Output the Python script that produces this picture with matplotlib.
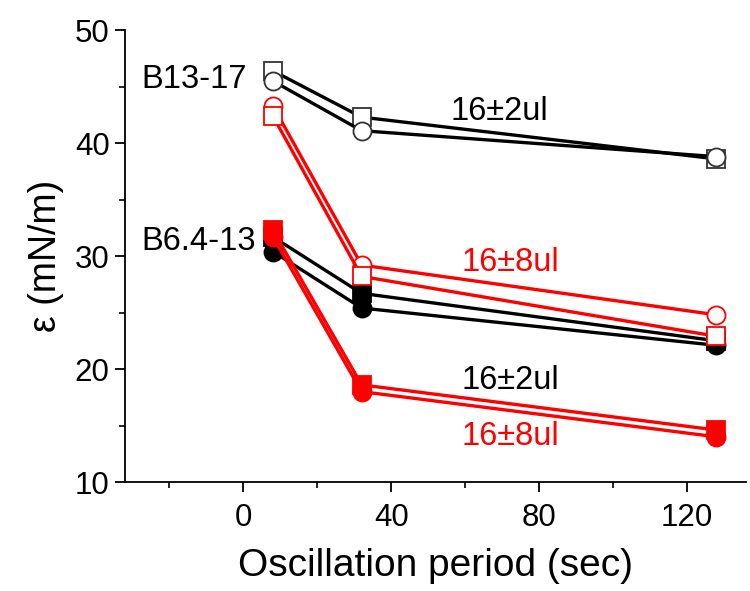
import matplotlib
matplotlib.use("Agg")
import matplotlib.pyplot as plt

plt.rcParams['font.family'] = ['Liberation Sans', 'DejaVu Sans']

periods = [8, 32, 128]

# B13-17, 16±2ul (black, open)
b13_sq = [46.4, 42.3, 38.6]
b13_ci = [45.5, 41.1, 38.8]
# B13-17, 16±8ul (red, open)
b13r_ci = [43.3, 29.2, 24.8]
b13r_sq = [42.4, 28.2, 22.9]
# B6.4-13, 16±2ul (black, filled)
b6_sq = [31.7, 26.7, 22.5]
b6_ci = [30.4, 25.4, 22.1]
# B6.4-13, 16±8ul (red, filled)
b6r_sq = [32.3, 18.6, 14.6]
b6r_ci = [31.7, 18.0, 14.0]

xticks = [0, 40, 80, 120]
yticks = [10, 20, 30, 40, 50]

fig = plt.figure(figsize=(7.5, 5.91), dpi=100)
ax = fig.add_axes([0.1667, 0.1844, 0.828, 0.7646])

lw = 2.4
ms = 13
mew = 1.3

def series(y, color, marker, filled):
    ax.plot(periods, y, color=color, lw=lw, marker=marker, ms=ms,
            mfc=(color if filled else 'white'), mec=(color if filled else ('#333333' if color == 'black' else color)),
            mew=mew, solid_capstyle='butt')

series(b13_sq, 'black', 's', False)
series(b13_ci, 'black', 'o', False)
series(b6_sq, 'black', 's', True)
series(b6_ci, 'black', 'o', True)
series(b13r_ci, 'red', 'o', False)
series(b13r_sq, 'red', 's', False)
series(b6r_sq, 'red', 's', True)
series(b6r_ci, 'red', 'o', True)

ax.set_xlim(-32, 136)
ax.set_ylim(10, 50)
ax.set_xticks(xticks)
ax.set_yticks(yticks)
ax.set_xticks([-20, 20, 60, 100], minor=True)
ax.set_yticks([15, 25, 35, 45], minor=True)
ax.tick_params(axis='both', which='major', direction='out', length=7, width=1.3, labelsize=22.5, pad=4)
ax.tick_params(axis='both', which='minor', direction='out', length=4.5, width=1.2)
ax.tick_params(axis='x', pad=8)
for s in ['top', 'right']:
    ax.spines[s].set_visible(False)
for s in ['left', 'bottom']:
    ax.spines[s].set_linewidth(1.3)

ax.set_xlabel('Oscillation period (sec)', fontsize=28, labelpad=11)
ax.set_ylabel('ε (mN/m)', fontsize=27, labelpad=8)

fs = 23.5
ax.text(-27.5, 45.6, 'B13-17', fontsize=fs, color='black', va='center', ha='left')
ax.text(56, 42.8, '16±2ul', fontsize=fs, color='black', va='center', ha='left')
ax.text(-27.5, 31.3, 'B6.4-13', fontsize=fs, color='black', va='center', ha='left')
ax.text(59, 29.4, '16±8ul', fontsize=fs, color='red', va='center', ha='left')
ax.text(59, 19.0, '16±2ul', fontsize=fs, color='black', va='center', ha='left')
ax.text(59, 14.0, '16±8ul', fontsize=fs, color='red', va='center', ha='left')

fig.savefig('out.png', dpi=100)
